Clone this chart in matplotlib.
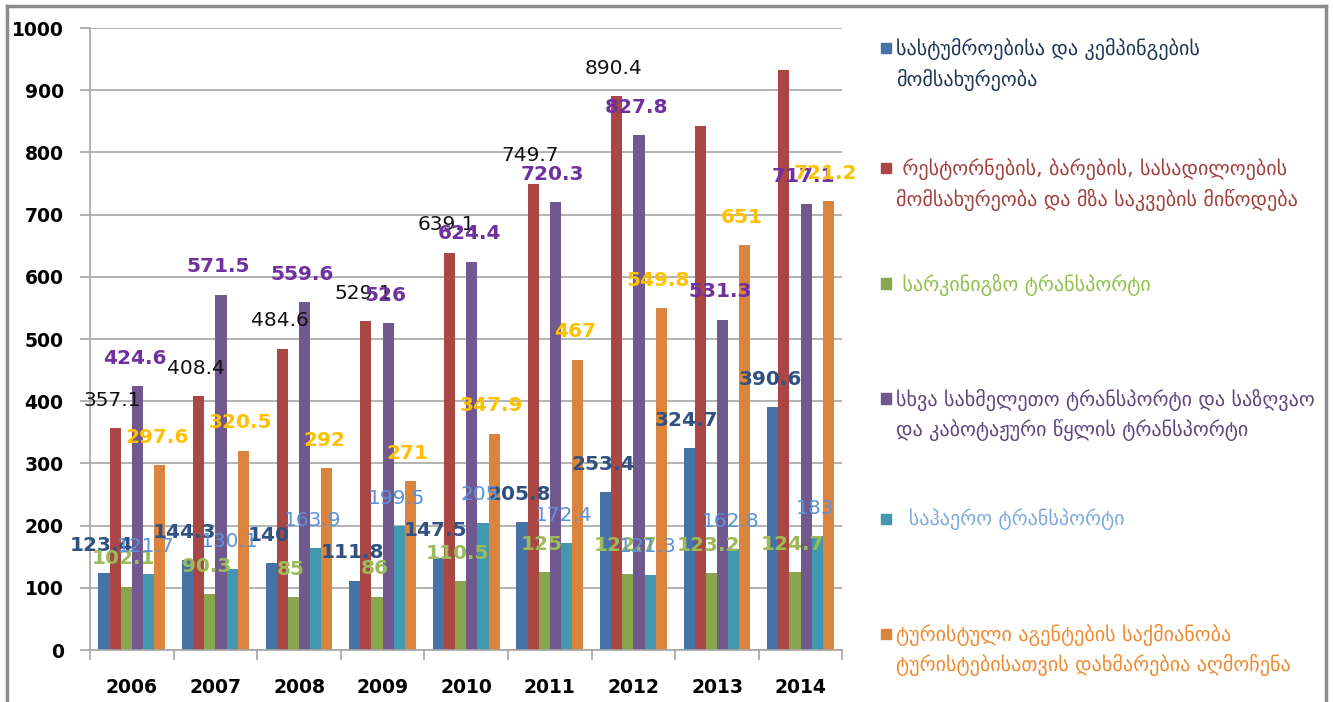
"""Georgian tourism-related services 2006-2014, grouped bars with value labels."""

import numpy as np
import matplotlib
matplotlib.use("Agg")
import matplotlib.pyplot as plt
from matplotlib.patches import Rectangle
from matplotlib.lines import Line2D

years = ["2006", "2007", "2008", "2009", "2010", "2011", "2012", "2013", "2014"]

hotels = [123.4, 144.3, 140, 111.8, 147.5, 205.8, 253.4, 324.7, 390.6]
restaurants = [357.1, 408.4, 484.6, 529.1, 639.1, 749.7, 890.4, 843.0, 933.0]
rail = [102.1, 90.3, 85, 86, 110.5, 125, 122.7, 123.2, 124.7]
land_water = [424.6, 571.5, 559.6, 526, 624.4, 720.3, 827.8, 531.3, 717.1]
air = [121.7, 130.1, 163.9, 199.5, 205.0, 172.4, 121.3, 162.8, 183]
agencies = [297.6, 320.5, 292, 271, 347.9, 467, 549.8, 651, 721.2]

# restaurants has no printed labels for the last two years
labelled_years = {"restaurants": 7}

legend_labels = [
    "სასტუმროებისა და კემპინგების\nმომსახურეობა",
    " რესტორნების, ბარების, სასადილოების\nმომსახურეობა და მზა საკვების მიწოდება",
    " სარკინიგზო ტრანსპორტი",
    "სხვა სახმელეთო ტრანსპორტი და საზღვაო\nდა კაბოტაჟური წყლის ტრანსპორტი",
    "  საჰაერო ტრანსპორტი",
    "ტურისტული აგენტების საქმიანობა\nტურისტებისათვის დახმარებია აღმოჩენა",
]

series = [hotels, restaurants, rail, land_water, air, agencies]
bar_colors = ["#4572A7", "#AA4643", "#89A54E", "#71588F", "#4198AF", "#DB843D"]
label_colors = ["#2F5283", "#111111", "#9BBB59", "#7030A0", "#5B93D9", "#FFC000"]
label_bold = [True, False, True, True, False, True]
legend_text_colors = ["#1F3556", "#A2403E", "#92C04A", "#5F4680", "#7FAAE0", "#F08A2E"]

fig = plt.figure(figsize=(13.34, 7.02), dpi=100)
ax = fig.add_axes([0.0675, 0.074, 0.564, 0.886])

x = np.arange(len(years))
n = len(series)
bw = 0.8 / n
for i, (vals, col) in enumerate(zip(series, bar_colors)):
    pos = x - 0.4 + bw * (i + 0.5)
    ax.bar(pos, vals, width=bw, color=col, edgecolor="none", zorder=2)
    count = labelled_years["restaurants"] if i == 1 else len(vals)
    for p, v in zip(pos[:count], vals[:count]):
        txt = f"{v:g}"
        ax.annotate(txt, (p, v), xytext=(-2, 20), textcoords="offset points",
                    ha="center", va="center", fontsize=14.5,
                    fontweight="bold" if label_bold[i] else "normal",
                    color=label_colors[i], zorder=5)

ax.set_xlim(-0.5, len(years) - 0.5)
ax.set_ylim(0, 1000)
ax.set_yticks(np.arange(0, 1001, 100))
ax.set_yticklabels([str(v) for v in range(0, 1001, 100)], fontsize=13.5, fontweight="bold")
ax.yaxis.grid(True, color="#A6A6A6", linewidth=1.2, zorder=0)
ax.set_axisbelow(True)
ax.tick_params(axis="y", length=7, color="#A6A6A6", width=1.2, pad=12)

ax.set_xticks(x)
ax.set_xticklabels(years, fontsize=13.5, fontweight="bold")
ax.tick_params(axis="x", length=0, pad=20)
ax.set_xticks(np.arange(-0.5, len(years) + 0.5, 1), minor=True)
ax.tick_params(axis="x", which="minor", length=7, color="#A6A6A6", width=1.2)

for s in ["top", "right"]:
    ax.spines[s].set_visible(False)
for s in ["left", "bottom"]:
    ax.spines[s].set_color("#A6A6A6")
    ax.spines[s].set_linewidth(1.2)

# legend on the right, drawn by hand to match spacing
leg_y = [0.932, 0.761, 0.597, 0.433, 0.262, 0.098]
for lbl, col, tcol, yy in zip(legend_labels, bar_colors, legend_text_colors, leg_y):
    fig.patches.append(Rectangle((0.6605, yy - 0.008), 0.0075, 0.0145,
                                 transform=fig.transFigure, color=col))
    fig.text(0.6715, yy + 0.0135, lbl, color=tcol, fontsize=14.5, va="top",
             ha="left", linespacing=1.5)

# outer frame
for xs, ys in [([0.0055, 0.0055], [0.0, 0.992]), ([0.0055, 0.994], [0.992, 0.992]),
               ([0.994, 0.994], [0.992, 0.0])]:
    fig.lines.append(Line2D(xs, ys, transform=fig.transFigure, color="#8C8C8C", linewidth=2.5))

fig.savefig("out.png", dpi=100)
